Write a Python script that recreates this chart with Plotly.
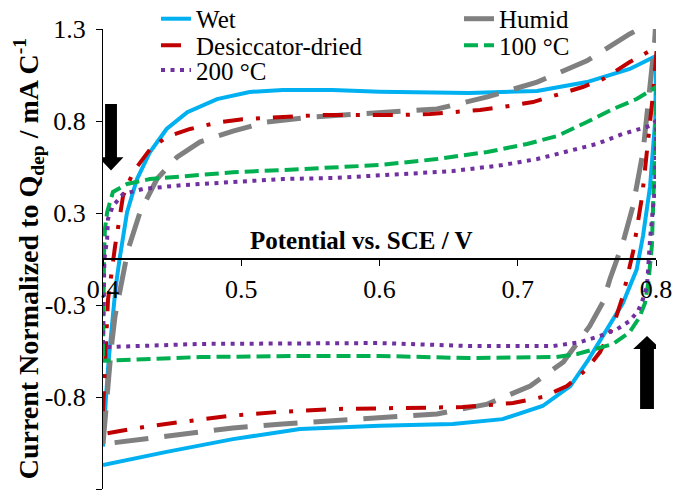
import plotly.graph_objects as go

# ---------------- data ----------------
wet_x = [0.400, 0.4005, 0.402, 0.404, 0.4065, 0.409, 0.412, 0.4155, 0.4174, 0.4246, 0.434, 0.446, 0.461,
         0.4825, 0.506, 0.530, 0.566, 0.600, 0.665, 0.714, 0.750, 0.781, 0.800,
         0.7995, 0.7957, 0.7906, 0.786, 0.776, 0.763, 0.751, 0.738, 0.718, 0.689, 0.653, 0.600,
         0.5425, 0.494, 0.446, 0.400]
wet_y = [-1.06, -0.98, -0.80, -0.58, -0.36, -0.17, 0.0, 0.17, 0.265, 0.452, 0.605, 0.735, 0.83,
         0.904, 0.944, 0.955, 0.955, 0.946, 0.938, 0.95, 1.0, 1.074, 1.147,
         0.79, 0.41, 0.13, -0.06, -0.25, -0.42, -0.57, -0.718, -0.831, -0.905, -0.933, -0.942,
         -0.961, -1.018, -1.09, -1.165]

humid_x = [0.400, 0.4015, 0.4036, 0.406, 0.4087, 0.4137, 0.418, 0.4268, 0.439, 0.4535, 0.470, 0.494,
           0.5186, 0.5476, 0.591, 0.6416, 0.678, 0.714, 0.750, 0.781, 0.795, 0.800,
           0.799, 0.7957, 0.7906, 0.7834, 0.776, 0.7667, 0.7617, 0.752, 0.733, 0.709, 0.678, 0.6416,
           0.600, 0.566, 0.530, 0.494, 0.458, 0.4217, 0.400]
humid_y = [-1.046, -0.90, -0.696, -0.50, -0.322, -0.13, 0.05, 0.265, 0.452, 0.576, 0.661, 0.723,
           0.774, 0.80, 0.822, 0.848, 0.916, 1.0, 1.12, 1.272, 1.33, 1.36,
           1.226, 0.978, 0.605, 0.30, 0.09, -0.113, -0.243, -0.38, -0.582, -0.718, -0.82, -0.876,
           -0.895, -0.916, -0.933, -0.955, -0.99, -1.029, -1.046]

desic_x = [0.400, 0.401, 0.4025, 0.4036, 0.4087, 0.4108, 0.4145, 0.4217, 0.434, 0.446, 0.463, 0.4846,
           0.501, 0.523, 0.559, 0.593, 0.615, 0.6365, 0.653, 0.6727, 0.689, 0.711, 0.7255, 0.747,
           0.7617, 0.781, 0.800,
           0.8005, 0.798, 0.794, 0.790, 0.7834, 0.776, 0.769, 0.7595, 0.750, 0.7356, 0.718, 0.6966,
           0.660, 0.605, 0.566, 0.526, 0.4897, 0.458, 0.434, 0.4123, 0.400]
desic_y = [-0.86, -0.70, -0.45, -0.23, 0.07, 0.186, 0.356, 0.49, 0.62, 0.69, 0.735, 0.774,
           0.79, 0.80, 0.814, 0.814, 0.814, 0.82, 0.83, 0.842, 0.859, 0.887, 0.921, 0.972,
           1.017, 1.113, 1.195,
           1.187, 0.944, 0.639, 0.356, 0.04, -0.21, -0.38, -0.526, -0.622, -0.718, -0.78, -0.814,
           -0.837, -0.843, -0.848, -0.865, -0.888, -0.92, -0.944, -0.972, -0.99]

c100_x = [0.400, 0.4003, 0.4008, 0.4014, 0.403, 0.4072, 0.4174, 0.434, 0.458, 0.494, 0.530, 0.566,
          0.600, 0.6416, 0.678, 0.7067, 0.7284, 0.750, 0.769, 0.786, 0.800,
          0.8005, 0.8003, 0.7995, 0.798, 0.797, 0.7945, 0.792, 0.788, 0.781, 0.769, 0.757, 0.743,
          0.728, 0.665, 0.600, 0.5425, 0.470, 0.4025, 0.400]
c100_y = [-0.55, -0.2, 0.04, 0.17, 0.265, 0.379, 0.424, 0.452, 0.469, 0.49, 0.503, 0.52,
          0.531, 0.565, 0.605, 0.65, 0.695, 0.774, 0.848, 0.904, 0.972,
          0.96, 0.887, 0.639, 0.322, 0.073, -0.13, -0.25, -0.33, -0.413, -0.48, -0.509, -0.537,
          -0.554, -0.56, -0.548, -0.548, -0.554, -0.571, -0.575]

c200_x = [0.400, 0.4005, 0.401, 0.403, 0.4036, 0.4072, 0.4145, 0.429, 0.458, 0.494, 0.530, 0.566,
          0.600, 0.617, 0.653, 0.689, 0.714, 0.738, 0.757, 0.776, 0.7957, 0.800,
          0.8003, 0.800, 0.7993, 0.7957, 0.7935, 0.7906, 0.787, 0.781, 0.772, 0.7595, 0.745,
          0.7255, 0.665, 0.600, 0.5425, 0.470, 0.4025, 0.400]
c200_y = [-0.48, -0.2, 0.0, 0.113, 0.226, 0.30, 0.367, 0.396, 0.418, 0.435, 0.452, 0.458,
          0.469, 0.48, 0.497, 0.531, 0.565, 0.61, 0.65, 0.707, 0.752, 0.78,
          0.774, 0.605, 0.41, 0.113, -0.153, -0.226, -0.294, -0.35, -0.396, -0.435, -0.47,
          -0.492, -0.492, -0.475, -0.475, -0.48, -0.498, -0.50]

y_tick_vals = [1.3, 0.78, 0.26, -0.26, -0.78, -1.3]
y_tick_text = ["1.3", "0.8", "0.3", "-0.3", "-0.8", "-1.3"]
x_tick_vals = [0.4, 0.5, 0.6, 0.7, 0.8]
x_tick_text = ["0.4", "0.5", "0.6", "0.7", "0.8"]

FONT = "Liberation Serif"

# name, x, y, colour, width, dash, legend id
series = [
    ("Wet", wet_x, wet_y, "#00B0F0", 4, "solid", "legend"),
    ("Humid", humid_x, humid_y, "#808080", 5, "34px,16px", "legend2"),
    ("Desiccator-dried", desic_x, desic_y, "#C00000", 4, "20px,13px,4px,13px", "legend3"),
    ("100 °C", c100_x, c100_y, "#00B050", 4, "14px,6px", "legend4"),
    ("200 °C", c200_x, c200_y, "#7030A0", 4, "4px,5.5px", "legend5"),
]

fig = go.Figure()
for name, xs, ys, col, w, dash, leg in series:
    fig.add_trace(go.Scatter(x=xs, y=ys, mode="lines", name=name, legend=leg,
                             line=dict(color=col, width=w, dash=dash)))

# arrows (shape paths in data coordinates)
def arrow_path(xc, y_tail, y_tip, y_head, hw_shaft, hw_head):
    return (f"M {xc-hw_shaft},{y_tail} L {xc-hw_shaft},{y_head} L {xc-hw_head},{y_head} "
            f"L {xc},{y_tip} L {xc+hw_head},{y_head} L {xc+hw_shaft},{y_head} "
            f"L {xc+hw_shaft},{y_tail} Z")

fig.add_shape(type="path", xref="x", yref="y",
              path=arrow_path(0.4058, 0.876, 0.500, 0.575, 0.0043, 0.009),
              fillcolor="black", line=dict(width=0))
fig.add_shape(type="path", xref="x", yref="y",
              path=arrow_path(0.7935, -0.848, -0.435, -0.509, 0.005, 0.010),
              fillcolor="black", line=dict(width=0))

def leg(x, y):
    return dict(orientation="v", x=x, y=y, xref="container", yref="container",
                yanchor="middle", xanchor="left",
                font=dict(family=FONT, size=25, color="black"),
                bgcolor="rgba(0,0,0,0)", itemwidth=30)

LX1, LX2 = 0.2315, 0.681
R1, R2, R3 = 0.962, 0.909, 0.859

fig.update_layout(
    width=674, height=499,
    margin=dict(l=103, r=18, t=29, b=10, autoexpand=False),
    paper_bgcolor="white", plot_bgcolor="white",
    font=dict(family=FONT, size=25, color="black"),
    showlegend=True,
    legend=leg(LX1, R1),
    legend2=leg(LX2, R1),
    legend3=leg(LX1, R2),
    legend4=leg(LX2, R2),
    legend5=leg(LX1, R3),
    xaxis=dict(range=[0.4, 0.8], tickvals=x_tick_vals, ticktext=x_tick_text,
               showgrid=False, zeroline=False, showline=True, linecolor="black", linewidth=1.5,
               ticks="outside", ticklen=6, tickcolor="black",
               anchor="free", position=0.5, ticklabelstandoff=1,
               tickfont=dict(family=FONT, size=26, color="black")),
    yaxis=dict(range=[-1.3, 1.3], tickvals=y_tick_vals, ticktext=y_tick_text,
               showgrid=False, zeroline=False, showline=True, linecolor="black", linewidth=1,
               ticks="outside", ticklen=6, tickcolor="black", ticklabelstandoff=5,
               tickfont=dict(family=FONT, size=26, color="black")),
    annotations=[
        dict(text="<b>Potential vs. SCE / V</b>", xref="paper", yref="paper",
             x=0.4665, y=0.541, xanchor="center", yanchor="middle", showarrow=False,
             font=dict(family=FONT, size=25, color="black")),
        dict(text="<b>Current Normalized to Q<sub>dep</sub> / mA C<sup>-1</sup></b>",
             xref="paper", yref="paper", x=-0.135, y=0.5, xanchor="center", yanchor="middle",
             textangle=-90, showarrow=False, font=dict(family=FONT, size=28, color="black")),
    ],
)

fig.write_html("out.html")
